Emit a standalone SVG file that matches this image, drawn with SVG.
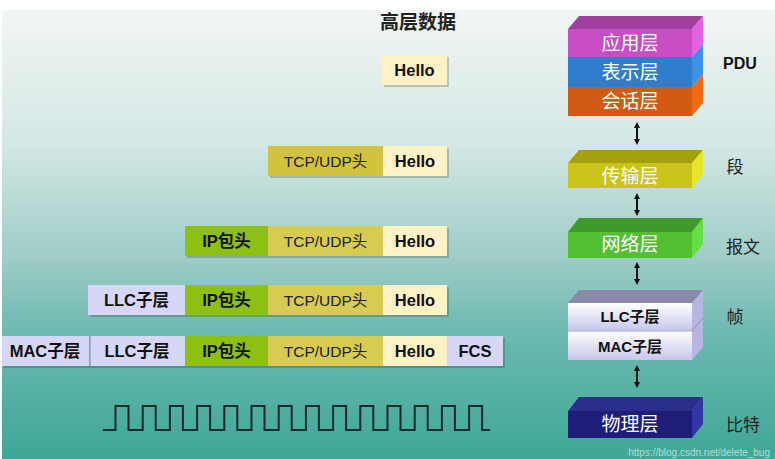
<svg xmlns="http://www.w3.org/2000/svg" width="775" height="459" viewBox="0 0 775 459">
<defs>
<linearGradient id="bg" x1="0" y1="0" x2="0" y2="1">
<stop offset="0" stop-color="#f2f6f5"/>
<stop offset="0.3" stop-color="#d3e7e4"/>
<stop offset="0.55" stop-color="#9fcdc7"/>
<stop offset="0.72" stop-color="#6cb9b0"/>
<stop offset="1" stop-color="#3ea797"/>
</linearGradient>
<linearGradient id="lav" x1="0" y1="0" x2="0" y2="1">
<stop offset="0" stop-color="#ffffff"/>
<stop offset="1" stop-color="#c6c6ec"/>
</linearGradient>
<marker id="ah" viewBox="0 0 6 6" refX="3" refY="3" markerWidth="6" markerHeight="6" orient="auto-start-reverse" markerUnits="userSpaceOnUse">
<path d="M0,0 L6,3 L0,6 Z" fill="#111"/>
</marker>
<style>
.cell{stroke:none}
.sh{fill:#000;opacity:0.18}
.hello{fill:#fdf2c6}
.tcp{fill:#d7cb52}
.ip{fill:#8dc012}
.lav{fill:#d6d6f6}
.b{font-family:"Liberation Sans",Arial,"Noto Sans CJK SC",sans-serif;font-weight:bold;font-size:16.5px;fill:#111;text-anchor:middle}
.r{font-family:"Liberation Sans",Arial,"Noto Sans CJK SC",sans-serif;font-size:15.5px;fill:#222;text-anchor:middle}
.lyr{font-family:"Noto Sans CJK SC",sans-serif;font-size:19px;fill:#ffffff;text-anchor:middle}
.sub{font-family:"Liberation Sans",Arial,"Noto Sans CJK SC",sans-serif;font-weight:bold;font-size:15px;fill:#111;text-anchor:middle}
.lbl{font-family:"Noto Sans CJK SC",sans-serif;font-size:17px;fill:#222;text-anchor:middle}
.conn line{stroke:#111;stroke-width:2;marker-start:url(#ah);marker-end:url(#ah)}
</style>
</defs>
<rect x="0" y="0" width="775" height="459" fill="#ffffff"/>
<rect x="2" y="10" width="773" height="449" fill="url(#bg)"/>

<text x="418" y="29" font-family="'Noto Sans CJK SC',sans-serif" font-size="19" font-weight="bold" fill="#222" text-anchor="middle">高层数据</text>

<!-- row 1 -->
<g id="row1">
<rect class="sh" x="384" y="57" width="65" height="30"/>
<rect class="cell hello" x="382" y="55" width="65" height="30"/>
<text class="b" x="414.5" y="76">Hello</text>
</g>
<!-- row 2 -->
<g id="row2">
<rect class="sh" x="270" y="148" width="179" height="30"/>
<rect class="cell tcp" x="268" y="146" width="115" height="30" fill="#d2c33c" style="fill:#d2c33c"/>
<rect class="cell hello" x="383" y="146" width="64" height="30"/>
<text class="r" x="325.5" y="167">TCP/UDP头</text>
<text class="b" x="415" y="167">Hello</text>
</g>
<!-- row 3 -->
<g id="row3">
<rect class="sh" x="187" y="228" width="262" height="30"/>
<rect class="cell ip" x="185" y="226" width="83" height="30"/>
<rect class="cell tcp" x="268" y="226" width="115" height="30"/>
<rect class="cell hello" x="383" y="226" width="64" height="30"/>
<text class="b" x="226.5" y="247">IP包头</text>
<text class="r" x="325.5" y="247">TCP/UDP头</text>
<text class="b" x="415" y="247">Hello</text>
</g>
<!-- row 4 -->
<g id="row4">
<rect class="sh" x="90" y="287" width="359" height="30"/>
<rect class="cell lav" x="88" y="285" width="97" height="30"/>
<rect class="cell ip" x="185" y="285" width="83" height="30"/>
<rect class="cell tcp" x="268" y="285" width="115" height="30"/>
<rect class="cell hello" x="383" y="285" width="64" height="30"/>
<text class="b" x="136.5" y="306">LLC子层</text>
<text class="b" x="226.5" y="306">IP包头</text>
<text class="r" x="325.5" y="306">TCP/UDP头</text>
<text class="b" x="415" y="306">Hello</text>
</g>
<!-- row 5 -->
<g id="row5">
<rect class="sh" x="4" y="338" width="501" height="30"/>
<rect class="cell lav" x="2" y="336" width="88" height="30"/>
<rect x="89" y="336" width="1.2" height="30" fill="#9a9ab8"/>
<rect class="cell lav" x="90.5" y="336" width="94.5" height="30"/>
<rect class="cell ip" x="185" y="336" width="83" height="30"/>
<rect class="cell tcp" x="268" y="336" width="115" height="30"/>
<rect class="cell hello" x="383" y="336" width="64" height="30"/>
<rect class="cell lav" x="447" y="336" width="56" height="30"/>
<text class="b" x="45" y="357">MAC子层</text>
<text class="b" x="137" y="357">LLC子层</text>
<text class="b" x="226.5" y="357">IP包头</text>
<text class="r" x="325.5" y="357">TCP/UDP头</text>
<text class="b" x="415" y="357">Hello</text>
<text class="b" x="475" y="357">FCS</text>
</g>

<!-- square wave -->
<g id="wave">
<path fill="none" stroke="#1a2a2a" stroke-width="2" d="M103,430 H115.5 V406 H128.5 V430 H142.7 V406 H155.7 V430 H169.9 V406 H182.9 V430 H197.1 V406 H210.1 V430 H224.3 V406 H237.3 V430 H251.5 V406 H264.5 V430 H278.7 V406 H291.7 V430 H305.9 V406 H318.9 V430 H333.1 V406 H346.1 V430 H360.3 V406 H373.3 V430 H387.5 V406 H400.5 V430 H414.7 V406 H427.7 V430 H441.9 V406 H454.9 V430 H469.1 V406 H482.1 V430 H490"/>
</g>

<!-- right stack -->
<g id="session">
<polygon points="692,87 703,74 703,103 692,116" fill="#f06a12"/>
<rect x="568" y="87" width="124" height="29" fill="#d25a12"/>
<text class="lyr" x="630" y="108">会话层</text>
</g>
<g id="presentation">
<polygon points="692,57 703,44 703,74 692,87" fill="#3c92e8"/>
<rect x="568" y="57" width="124" height="30" fill="#2f7ecd"/>
<text class="lyr" x="630" y="79">表示层</text>
</g>
<g id="application">
<polygon points="568,29 579,16 703,16 692,29" fill="#a0409c"/>
<polygon points="692,29 703,16 703,44 692,57" fill="#e262e2"/>
<rect x="568" y="29" width="124" height="28" fill="#c74fc3"/>
<text class="lyr" x="630" y="50">应用层</text>
</g>
<g id="transport">
<polygon points="568,163 579,150 703,150 692,163" fill="#a4a010"/>
<polygon points="692,163 703,150 703,175 692,188" fill="#e6e626"/>
<rect x="568" y="163" width="124" height="25" fill="#cbc21a"/>
<text class="lyr" x="630" y="183">传输层</text>
</g>
<g id="network">
<polygon points="568,232 579,218 703,218 692,232" fill="#3e9a2a"/>
<polygon points="692,232 703,218 703,244 692,258" fill="#62e042"/>
<rect x="568" y="232" width="124" height="26" fill="#52c032"/>
<text class="lyr" x="630" y="251">网络层</text>
</g>
<g id="datalink">
<polygon points="568,303 579,290 703,290 692,303" fill="#8a8aa8"/>
<polygon points="692,303 703,290 703,347 692,360" fill="#b6b6e2"/>
<line x1="692" y1="331" x2="703" y2="318" stroke="#9090c0" stroke-width="1"/>
<rect x="568" y="303" width="124" height="28" fill="url(#lav)"/>
<rect x="568" y="331" width="124" height="29" fill="url(#lav)"/>
<line x1="568" y1="331" x2="692" y2="331" stroke="#a8a8cc" stroke-width="1"/>
<text class="sub" x="630" y="322">LLC子层</text>
<text class="sub" x="630" y="352">MAC子层</text>
</g>
<g id="physical">
<polygon points="568,411 579,397 703,397 692,411" fill="#2c2c8a"/>
<polygon points="692,411 703,397 703,424 692,438" fill="#3434a4"/>
<rect x="568" y="411" width="124" height="27" fill="#1e1e78"/>
<text class="lyr" x="630" y="431">物理层</text>
</g>

<g class="conn" id="connectors">
<line x1="637" y1="125" x2="637" y2="142"/>
<line x1="637" y1="196" x2="637" y2="213"/>
<line x1="637" y1="265" x2="637" y2="282"/>
<line x1="637" y1="368" x2="637" y2="385"/>
</g>

<text x="740" y="69" font-family="'Liberation Sans',Arial,sans-serif" font-weight="bold" font-size="16" fill="#111" text-anchor="middle">PDU</text>
<text class="lbl" x="735" y="173">段</text>
<text class="lbl" x="743" y="253">报文</text>
<text class="lbl" x="735" y="323">帧</text>
<text class="lbl" x="743" y="431">比特</text>

<text x="770" y="456" font-family="'Liberation Sans',Arial,sans-serif" font-size="10" fill="#ffffff" fill-opacity="0.6" text-anchor="end">https://blog.csdn.net/delete_bug</text>
</svg>
